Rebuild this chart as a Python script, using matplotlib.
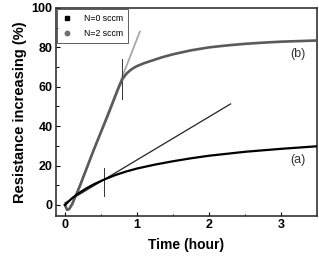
import numpy as np
import matplotlib
matplotlib.use('Agg')
import matplotlib.pyplot as plt

# --- data ---
t_a = [0.0, 0.1, 0.2, 0.3, 0.4, 0.55, 0.7, 0.85, 1.0, 1.25, 1.5, 1.75, 2.0, 2.5, 3.0, 3.5]
r_a = [0.0, 3.5, 6.2, 8.5, 10.5, 13.0, 15.2, 17.0, 18.5, 20.5, 22.2, 23.7, 25.0, 27.0, 28.5, 29.8]

t_b = [0.0, 0.03, 0.06, 0.1, 0.2, 0.4, 0.6, 0.75, 0.8, 0.85, 0.9, 0.95, 1.0, 1.1, 1.2,
       1.35, 1.5, 1.75, 2.0, 2.25, 2.5, 2.75, 3.0, 3.25, 3.5]
r_b = [0.0, -2.5, -2.0, 0.5, 9.0, 28.0, 46.0, 60.0, 64.0, 66.5, 68.2, 69.5, 70.5, 72.0, 73.2,
       75.0, 76.5, 78.5, 80.0, 81.0, 81.8, 82.4, 82.9, 83.2, 83.5]

# tangent lines and tick marks
tan_a_t = [0.0, 2.3]
tan_a_r = [1.0, 51.3]
tan_b_t = [0.1, 1.04]
tan_b_r = [0.0, 88.0]
mark_a_t, mark_a_r = 0.54, (4.6, 18.8)
mark_b_t, mark_b_r = 0.79, (54.0, 74.0)

plt.rcParams['font.family'] = ['Liberation Sans', 'DejaVu Sans']

fig = plt.figure(figsize=(3.19, 2.57), dpi=100)
ax = fig.add_axes([0.1755, 0.1595, 0.8182, 0.8094])

ax.plot(tan_b_t, tan_b_r, color='#a8a8a8', lw=1.3, zorder=2)
ax.plot(t_b, r_b, color='#5a5a5a', lw=1.9, zorder=3)
ax.plot(tan_a_t, tan_a_r, color='#222222', lw=0.9, zorder=2)
ax.plot(t_a, r_a, color='black', lw=1.6, zorder=3)
ax.plot([mark_a_t, mark_a_t], mark_a_r, color='#333333', lw=0.7)
ax.plot([mark_b_t, mark_b_t], mark_b_r, color='#333333', lw=0.7)

# legend handles
ax.plot([], [], 's', color='black', ms=3.2, label='N=0 sccm')
ax.plot([], [], 'o', color='#707070', ms=3.2, label='N=2 sccm')
leg = ax.legend(loc='upper left', fontsize=6.3, frameon=True, fancybox=False,
                edgecolor='#333333', handlelength=1.2, borderpad=0.55,
                labelspacing=0.7, borderaxespad=0.15, handletextpad=1.3)
leg.get_frame().set_linewidth(0.7)

ax.text(3.23, 76.5, '(b)', fontsize=9, ha='center', va='center', color='#333333')
ax.text(3.23, 22.8, '(a)', fontsize=9, ha='center', va='center', color='#333333')

ax.set_xlim(-0.125, 3.5)
ax.set_ylim(-5.6, 100)
ax.set_xticks([0, 1, 2, 3])
ax.set_xticks([0.5, 1.5, 2.5], minor=True)
ax.set_yticks([0, 20, 40, 60, 80, 100])
ax.set_yticks([10, 30, 50, 70, 90], minor=True)
ax.tick_params(direction='in', length=3, width=0.8, labelsize=9, pad=2.5)
ax.tick_params(which='minor', direction='in', length=1.8, width=0.7)
for lab in ax.get_xticklabels() + ax.get_yticklabels():
    lab.set_fontweight('bold')
for sp in ax.spines.values():
    sp.set_linewidth(1.2)
    sp.set_color('#333333')

ax.set_xlabel('Time (hour)', fontsize=10, fontweight='bold', labelpad=5)
ax.set_ylabel('Resistance increasing (%)', fontsize=10.5, fontweight='bold', labelpad=3)

fig.savefig('out.png', dpi=100)
